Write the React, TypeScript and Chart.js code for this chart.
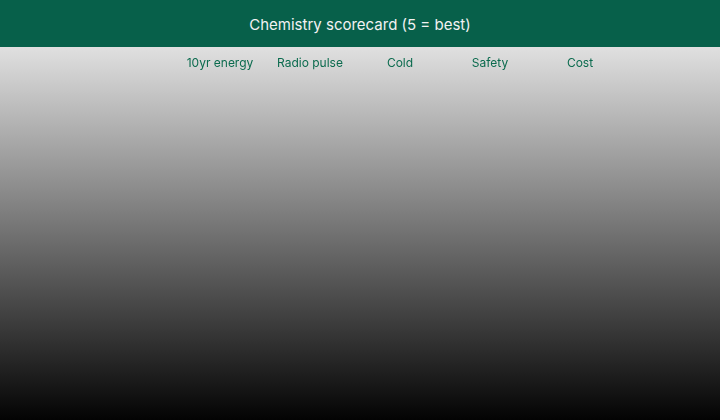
import React, { useRef, useEffect } from "react";
import { Chart, registerables } from "chart.js";

Chart.register(...registerables);

// Column headers of the scorecard
const criteria = ["10yr energy", "Radio pulse", "Cold", "Safety", "Cost"];
// Rows (chemistries) – none are drawn in the reference
const chemistries: string[] = [];
const scores: number[][] = [];

const GREEN = "#07604a";
const LABEL_GREEN = "#0b6b4e";
const FONT = "Inter, 'Noto Sans', sans-serif";

const App: React.FC = () => {
  const canvasRef = useRef<HTMLCanvasElement>(null);
  const chartRef = useRef<Chart | null>(null);

  useEffect(() => {
    if (!canvasRef.current) return;
    if (chartRef.current) chartRef.current.destroy();

    const ctx = canvasRef.current.getContext("2d");
    if (!ctx) return;

    chartRef.current = new Chart(ctx, {
      type: "bar",
      data: {
        labels: criteria,
        datasets: chemistries.map((name, i) => ({
          label: name,
          data: scores[i],
          backgroundColor: GREEN,
        })),
      },
      options: {
        animation: false,
        responsive: true,
        maintainAspectRatio: false,
        layout: { padding: { top: 9, left: 175, right: 95, bottom: 0 } },
        plugins: {
          legend: { display: false },
          tooltip: { enabled: false },
          title: { display: false },
        },
        scales: {
          x: {
            position: "top",
            grid: { display: false, drawTicks: false },
            border: { display: false },
            ticks: {
              color: LABEL_GREEN,
              padding: 0,
              maxRotation: 0,
              font: { family: FONT, size: 12 },
            },
          },
          y: { display: false, min: 0, max: 5 },
        },
      },
    });

    return () => {
      if (chartRef.current) {
        chartRef.current.destroy();
        chartRef.current = null;
      }
    };
  }, []);

  return (
    <div style={{ position: "fixed", inset: 0, fontFamily: FONT }}>
      <div
        style={{
          height: 47,
          boxSizing: "border-box",
          paddingTop: 2,
          background: GREEN,
          color: "#f2f2f2",
          fontSize: 15,
          display: "flex",
          alignItems: "center",
          justifyContent: "center",
        }}
      >
        Chemistry scorecard (5 = best)
      </div>
      <div
        style={{
          position: "relative",
          height: 373,
          background: "linear-gradient(to bottom, #e0e0e0, #030303)",
        }}
      >
        <canvas ref={canvasRef}></canvas>
      </div>
    </div>
  );
};

export default App;
